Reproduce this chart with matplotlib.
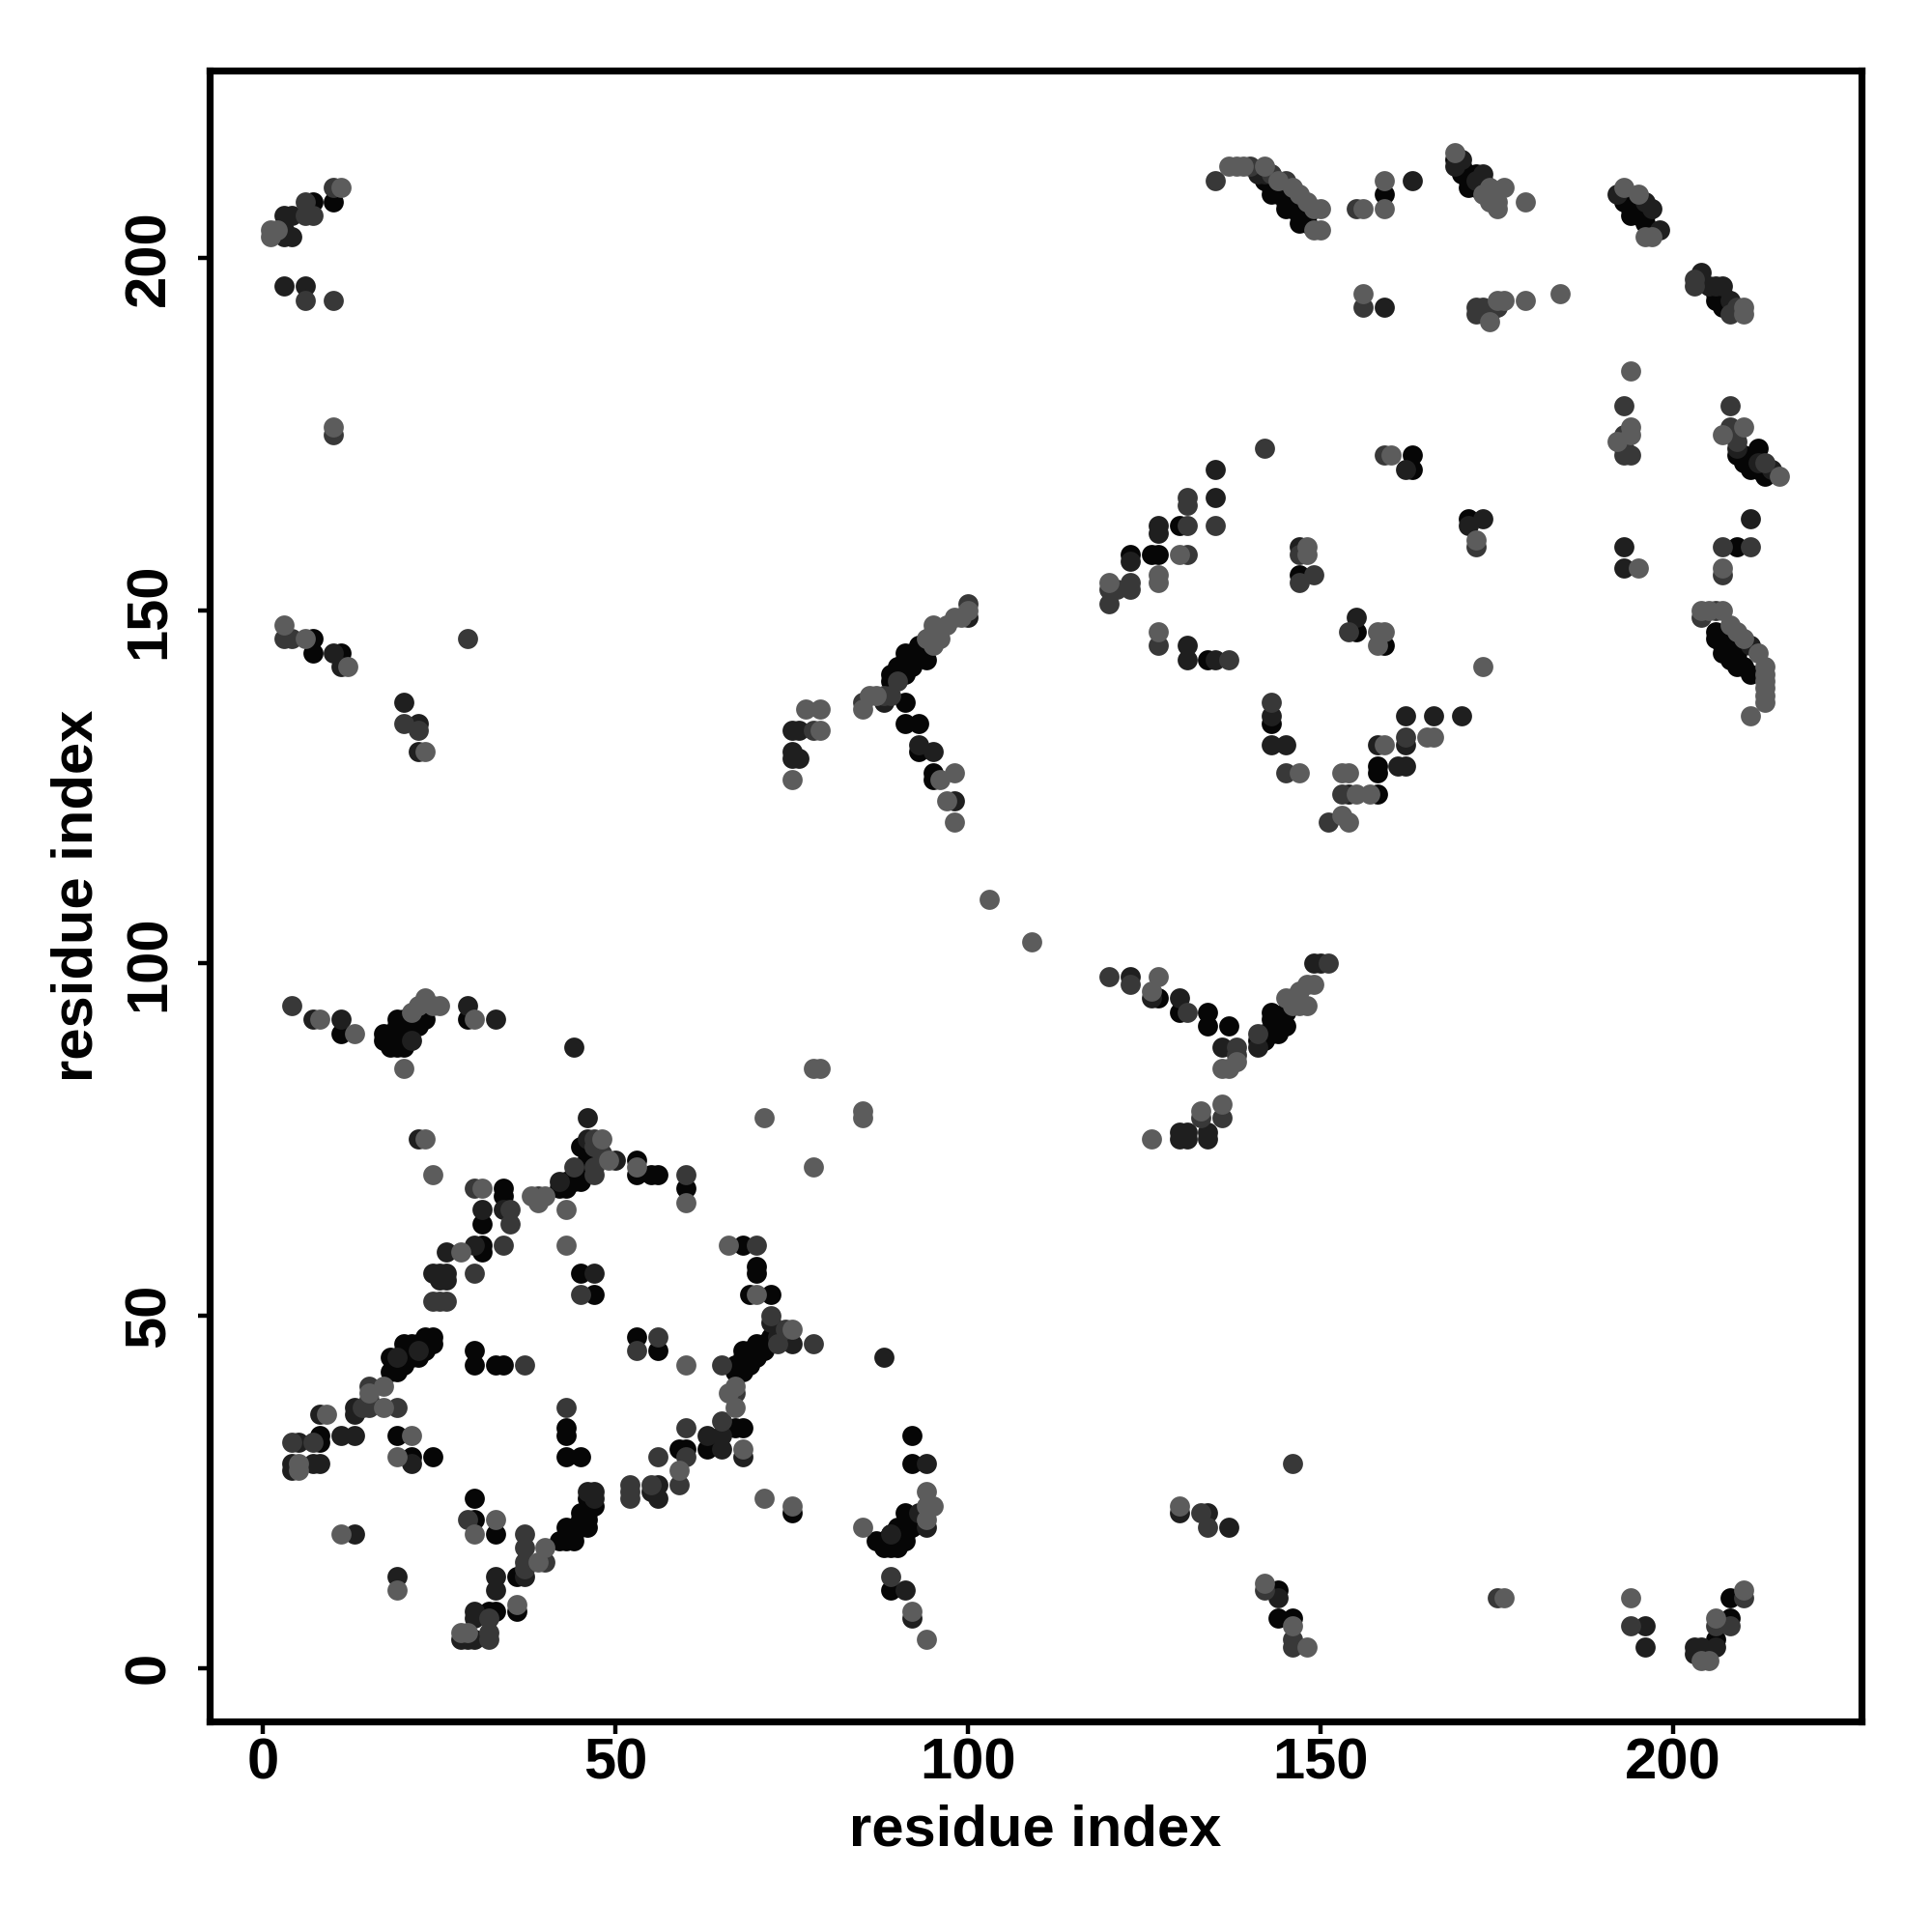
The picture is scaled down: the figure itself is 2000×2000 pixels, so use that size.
import matplotlib
matplotlib.use("Agg")
import matplotlib.pyplot as plt

tick_values = [0, 50, 100, 150, 200]
axis_title = "residue index"

# contacts (x residue, y residue) grouped by grey level
points_black = [
 (45,74),(46,73),(47,72),(46,72),(45,71),(44,70),(44,69),(43,69),(43,68),(42,68),(45,69),
 (53,72),(53,70),(55,70),(56,70),(60,68),(34,68),(34,67),(31,63),(31,60),(31,59),
 (68,60),(70,57),(70,56),(45,56),(47,53),(69,53),(72,53),(53,47),(56,45),(30,45),(30,43),(33,43),(34,43),
 (18,42),(19,42),(20,43),(18,44),(19,43),(20,45),(20,46),(21,46),(21,44),(22,46),(22,44),(23,45),(23,47),(24,47),(24,46),
 (68,44),(67,43),(67,42),(68,42),(68,45),(69,45),(69,43),(70,44),(70,46),(71,45),(72,47),(71,46),
 (43,34),(43,33),(43,30),(45,30),(8,33),(8,32),(19,33),(21,30),(24,30),
 (67,34),(68,34),(59,31),(60,31),(63,31),(75,22),(30,24),(30,21),(33,19),(36,13),(36,8),(32,8),(33,8),
 (45,22),(45,21),(46,24),(46,22),(46,21),(47,23),(44,20),(44,19),(43,20),(43,18),(42,18),(44,18),(46,20),
 (7,208),(10,208),(7,146),(7,144),(11,144),(11,90),(29,92),
 (19,92),(19,91),(18,90),(18,89),(18,88),(20,90),(20,91),(20,92),(21,91),(21,92),(22,91),(22,93),(17,89),(17,90),(19,89),(19,88),(20,88),(23,92),
 (142,211),(143,210),(144,209),(145,208),(146,207),(147,206),(148,206),(144,210),(146,208),(143,209),(145,207),(147,205),(148,205),
 (159,209),(170,212),(171,211),(172,212),(172,210),(170,213),(169,214),(171,212),(173,211),(171,210),
 (193,208),(194,207),(195,206),(196,207),(196,206),(194,208),(194,206),(196,205),
 (206,194),(207,193),(206,195),(207,195),(207,194),(208,193),
 (212,173),(209,172),(210,171),(211,170),(210,172),(212,170),(213,169),
 (163,172),(163,170),(123,158),(126,158),(127,158),(130,162),(147,155),(171,163),(209,159),
 (206,146),(207,145),(208,144),(209,143),(210,142),(211,141),(206,147),(207,146),(208,145),(209,144),(207,144),(208,143),(209,142),
 (134,143),(155,147),(159,145),(143,134),(158,128),(158,127),(158,124),
 (89,141),(89,140),(90,142),(91,141),(91,144),(92,143),(92,142),(93,144),(93,145),(94,143),(92,144),(91,143),(91,137),(91,134),(93,134),(93,130),
 (95,126),(95,127),(127,95),(130,93),(134,93),(134,91),(137,91),(141,89),(142,89),(143,90),(144,90),(143,92),(143,93),(144,92),(145,91),(142,90),(145,93),
 (144,11),(144,7),(146,7),(208,7),(208,10),(206,4),
 (88,18),(88,17),(89,17),(89,19),(90,17),(90,18),(90,20),(91,18),(91,19),(92,20),(91,22),(92,21),(87,18),
 (89,11),(92,29),(92,33),
]
points_dark = [
 (46,78),(46,75),(22,75),(50,72),(42,69),(31,65),(34,65),(30,60),(26,59),(24,56),(25,55),(26,56),(47,56),(26,55),(25,56),
 (72,49),(73,47),(75,46),(13,37),(13,36),(8,36),(5,32),(11,33),(13,33),(4,29),(4,28),(7,29),(8,29),(65,31),(65,33),(68,30),(63,33),
 (47,25),(46,25),(47,24),(19,13),(33,13),(33,11),(13,19),(28,4),(29,4),(30,4),(30,8),(30,7),(37,13),(56,26),(55,25),(56,24),(21,29),
 (3,206),(4,206),(3,204),(3,203),(4,203),(3,196),(6,196),(10,144),(11,142),(20,137),(22,134),(22,130),
 (75,133),(76,133),(75,129),(76,129),(75,130),(7,92),(11,92),(33,92),(29,94),(44,88),(21,89),(22,45),(19,44),
 (141,212),(142,212),(169,213),(163,211),(192,209),(198,204),(204,198),(205,196),(206,196),(207,196),
 (159,193),(196,208),(208,194),(214,170),(212,171),(135,170),(135,166),(127,162),(127,161),(123,157),(162,170),
 (173,163),(171,162),(147,159),(193,159),(211,163),(193,156),(211,145),(131,145),(131,143),(135,143),(155,149),(143,135),(143,131),(145,131),
 (162,135),(166,135),(170,135),(162,131),(161,128),(162,128),(158,131),(154,124),(100,149),(88,137),(149,100),
 (93,131),(95,130),(98,123),(123,98),(126,95),(130,95),(136,88),(141,88),(150,100),(130,75),(131,75),(134,76),(134,75),(131,76),(130,76),
 (130,22),(134,22),(137,20),(88,44),(94,29),(89,19),(91,11),(92,7),(144,10),(196,6),(196,3),(203,3),(203,2),(204,3),(206,3),(94,20),(93,22),
 (170,214),(172,211),(173,212),(197,207),(209,173),
]
points_mid = [
 (47,75),(47,74),(48,73),(47,71),(47,70),(39,67),(60,70),(35,65),(35,63),(34,60),(70,60),(30,56),
 (24,52),(25,52),(26,52),(72,50),(74,48),(78,46),(56,47),(73,46),(43,37),(37,43),(65,43),(15,40),(14,37),(15,37),(15,38),
 (19,37),(4,32),(7,32),(60,34),(65,35),(67,39),(56,30),(59,26),(60,30),(52,26),(52,25),(52,24),(55,26),(29,21),(37,19),(37,17),(37,15),(37,14),(40,15),
 (32,7),(32,5),(32,4),(30,68),(45,53),(53,45),(44,71),
 (10,210),(6,208),(6,206),(7,206),(6,194),(10,175),(10,194),(4,146),(3,146),(29,146),(20,134),(22,133),(78,133),(4,94),(135,211),(155,207),
 (140,213),(143,212),(145,211),(156,193),(172,192),(173,193),(172,193),(175,193),(174,192),(203,197),(203,196),(209,193),(208,192),
 (193,179),(193,175),(193,173),(193,172),(194,172),(208,179),(209,174),(208,176),(213,171),(142,173),(159,172),(135,162),(131,166),(131,165),(131,158),(131,162),
 (123,154),(123,153),(120,151),(121,153),(120,153),(147,158),(149,155),(147,154),(172,159),(207,159),(211,159),(207,155),
 (204,149),(206,150),(127,145),(137,143),(154,147),(143,137),(145,127),(162,132),(153,124),(151,120),(100,151),(85,137),(88,138),(89,138),(90,140),
 (120,98),(123,97),(131,93),(141,90),(138,87),(138,88),(133,78),(136,78),(142,11),(146,4),(146,3),(146,29),(133,22),(134,20),(175,10),(194,6),(208,6),(210,10),(206,6),(89,13),(151,100),
]
points_grey = [
 (23,75),(24,70),(48,75),(49,72),(38,67),(39,66),(40,67),(43,65),(53,71),(31,68),(60,66),(71,78),(85,79),(85,78),(78,71),
 (28,59),(43,60),(66,60),(70,53),(75,48),(60,43),(17,40),(15,39),(17,37),(9,36),(21,33),(19,30),(5,29),(5,28),
 (67,37),(66,39),(67,40),(68,31),(59,28),(71,24),(75,23),(30,19),(33,21),(11,19),(19,11),(40,17),(39,15),(36,9),(28,5),(29,5),
 (11,210),(1,204),(2,204),(1,203),(3,148),(6,146),(8,92),(12,142),(23,130),(77,136),(79,136),(79,133),(75,126),(13,90),(30,92),(20,85),(78,85),(79,85),
 (25,94),(23,95),(22,94),(24,94),(21,93),(159,211),(10,176),(130,158),(195,156),
 (137,213),(138,213),(139,213),(142,213),(144,211),(146,210),(147,209),(148,208),(149,207),(150,207),(149,204),(150,204),
 (156,207),(159,207),(169,215),(174,210),(176,210),(175,208),(175,207),(179,208),(193,210),(195,209),(196,203),(197,203),
 (210,193),(210,192),(156,195),(174,191),(175,194),(176,194),(179,194),(184,195),(173,209),(174,208),
 (194,184),(192,174),(194,176),(194,175),(207,175),(210,176),(215,169),(160,172),(148,159),(148,158),(172,160),(207,156),
 (127,155),(127,154),(120,154),(204,150),(205,150),(207,150),(208,148),(209,147),(210,146),(212,144),(213,142),(213,141),(213,140),(213,139),(213,138),(213,137),(211,135),
 (127,147),(158,147),(159,147),(158,145),(173,142),(147,127),(159,131),(165,132),(166,132),(153,127),(154,127),(155,124),(157,124),(153,121),(154,120),
 (85,136),(86,138),(87,138),(95,148),(95,147),(95,145),(96,146),(97,148),(98,149),(99,149),(100,150),(94,146),(98,127),(96,126),(97,123),(98,120),
 (127,98),(126,96),(138,86),(137,85),(136,85),(146,95),(147,96),(148,94),(148,97),(149,97),(147,94),(145,95),(146,94),
 (133,79),(136,80),(126,75),(103,109),(109,103),(85,20),(94,25),(94,23),(95,23),(94,21),(92,8),(94,4),(130,23),(142,12),(146,6),(148,3),(176,10),
 (194,10),(204,1),(205,1),(206,7),(210,11),
]

point_groups = [(points_black, "#060606"), (points_dark, "#1f1f1f"), (points_mid, "#383838"), (points_grey, "#5c5c5c")]

plt.rcParams["font.family"] = ["Liberation Sans", "DejaVu Sans"]
fig = plt.figure(figsize=(10, 10), dpi=200, facecolor="white")
ax = fig.add_axes([217/2000, 1 - 1782/2000, 1710/2000, 1709/2000])

for pts, colour in point_groups:
    ax.scatter([p[0] for p in pts], [p[1] for p in pts], s=56, c=colour, linewidths=0, zorder=3)
ax.set_xlim(-7.6, 226.7)
ax.set_ylim(-7.6, 226.6)
ax.set_xticks(tick_values)
ax.set_yticks(tick_values)
ax.tick_params(axis="x", length=4.5, width=1.6, labelsize=21.5, pad=1.5)
ax.tick_params(axis="y", length=4.5, width=1.6, labelsize=21.5, pad=8)
for lab in ax.get_xticklabels() + ax.get_yticklabels():
    lab.set_fontweight("bold")
for lab in ax.get_yticklabels():
    lab.set_rotation(90)
    lab.set_va("center")
for s in ax.spines.values():
    s.set_linewidth(2.6)
ax.set_xlabel(axis_title, fontsize=21.5, fontweight="bold", labelpad=5)
ax.set_ylabel(axis_title, fontsize=21.5, fontweight="bold", labelpad=7)
fig.savefig("out.png", dpi=200)
